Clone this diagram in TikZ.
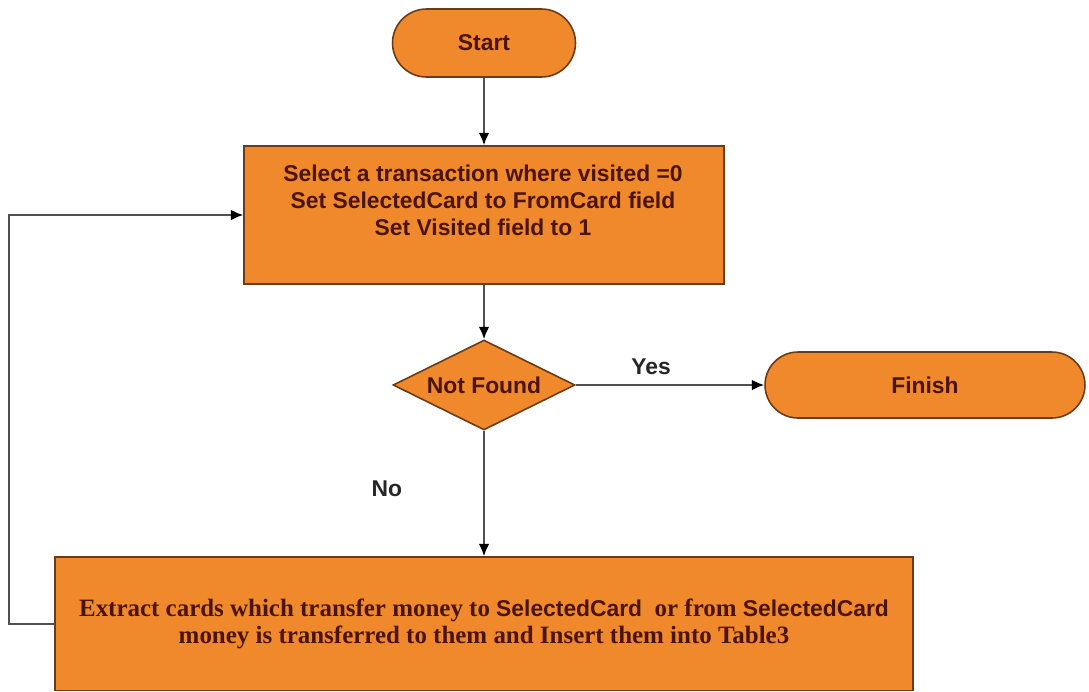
\documentclass[tikz,border=0pt]{standalone}
\usepackage{fontspec}
\setmainfont{Liberation Sans}
\newfontfamily\timesfont{Liberation Serif}
\usetikzlibrary{shapes.geometric,shapes.misc,arrows.meta}
\definecolor{fcorange}{HTML}{F0892B}
\definecolor{fcborder}{HTML}{6B3A18}
\definecolor{fctext}{HTML}{4A140A}
\definecolor{fcline}{HTML}{505050}

\begin{document}
\begin{tikzpicture}[x=0.02cm, y=-0.02cm,
    terminal/.style={rounded rectangle, draw=fcborder, line width=0.9pt, fill=fcorange, inner sep=0pt},
    procbox/.style={rectangle, draw=fcborder, line width=0.9pt, fill=fcorange, inner sep=0pt},
    decision/.style={diamond, draw=fcborder, line width=0.9pt, fill=fcorange, inner sep=0pt},
    boxtext/.style={text=fctext, font=\bfseries\fontsize{13}{15.4}\selectfont, align=center},
    flow/.style={draw=fcline, line width=1.1pt, -{Latex[length=7pt,width=6pt,color=black]}},
    branch/.style={text=black!85, font=\bfseries\fontsize{13}{15.4}\selectfont}]
    \useasboundingbox (0,0) rectangle (1089,691);
    \clip (0,0) rectangle (1089,690);

    % Start and first step
    \node[terminal, minimum width=3.66cm, minimum height=1.36cm, boxtext] (start) at (484,43) {Start};
    \node[procbox, minimum width=9.6cm, minimum height=2.76cm] (select) at (484,215) {};
    \node[boxtext] (selecttxt) at (483,200) {Select a transaction where visited =0\\
        Set SelectedCard to FromCard field\\Set Visited field to 1};

    % Test
    \node[decision, minimum width=3.64cm, minimum height=1.8cm] (found) at (484,385) {};
    \node[boxtext] (foundtxt) at (found.center) {Not Found};
    \node[terminal, minimum width=6.4cm, minimum height=1.32cm, boxtext] (finish) at (925,385) {Finish};

    % Extraction step
    \node[procbox, minimum width=17.16cm, minimum height=2.68cm] (extract) at (484,624) {};
    \node[boxtext, font=\timesfont\bfseries\fontsize{14.2}{15.6}\selectfont] (extracttxt) at (484,624)
        {Extract cards which transfer money to {\fontspec{Liberation Sans}\bfseries\fontsize{13}{15.6}\selectfont SelectedCard}\ \ or from {\fontspec{Liberation Sans}\bfseries\fontsize{13}{15.6}\selectfont SelectedCard}\\
        money is transferred to them and Insert them into Table3};

    % Connectors
    \draw[flow] (start) -- (select);
    \draw[flow] (select) -- (found);
    \draw[flow] (found) -- node[branch, pos=0.4, above=2pt] {Yes} (finish);
    \draw[flow] (found) -- node[branch, pos=0.46, left=1.5cm] {No} (extract);

    % Loop back
    \coordinate (back) at (9,420);
    \draw[flow] (extract.west) -| (back) |- (select.west);
\end{tikzpicture}
\end{document}
